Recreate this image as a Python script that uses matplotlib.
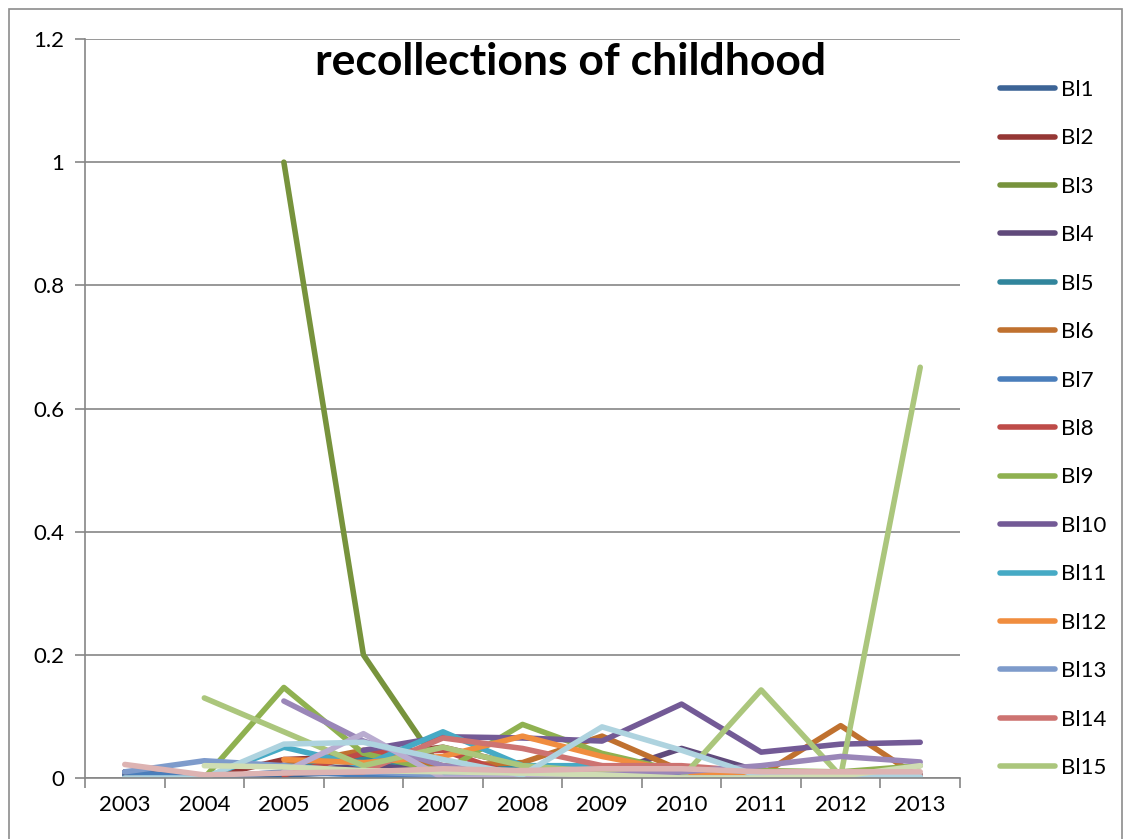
import numpy as np
import matplotlib

matplotlib.use("Agg")
import matplotlib.pyplot as plt
from matplotlib.patches import Rectangle

nan = np.nan

years = ["2003", "2004", "2005", "2006", "2007", "2008",
         "2009", "2010", "2011", "2012", "2013"]

bl1 = [0.005, 0.0, 0.005, 0.01, 0.005, 0.003, 0.0, 0.0, 0.0, 0.0, 0.0]
bl2 = [0.01, 0.0, 0.03, 0.035, 0.05, 0.02, 0.01, 0.0, 0.0, 0.0, 0.0]
bl3 = [nan, nan, 1.0, 0.2, 0.01, 0.005, 0.0, 0.0, 0.0, 0.0, 0.0]
bl4 = [nan, nan, 0.01, 0.02, 0.015, 0.02, 0.005, 0.048, 0.01, 0.005, 0.0]
bl5 = [nan, nan, 0.02, 0.03, 0.02, 0.015, 0.01, 0.005, 0.005, 0.005, 0.005]
bl6 = [nan, nan, 0.02, 0.045, 0.02, 0.025, 0.068, 0.012, 0.005, 0.085, 0.0]
bl7 = [0.01, 0.0, 0.01, 0.005, 0.003, 0.0, 0.0, 0.0, 0.0, 0.0, 0.0]
bl8 = [nan, nan, 0.005, 0.04, 0.045, 0.0, 0.0, 0.0, 0.0, 0.0, 0.0]
bl9 = [nan, 0.0, 0.147, 0.04, 0.01, 0.087, 0.04, 0.01, 0.012, 0.01, 0.02]
bl10 = [nan, nan, nan, 0.045, 0.067, 0.065, 0.06, 0.12, 0.042, 0.055, 0.058]
bl11 = [nan, 0.0, 0.05, 0.02, 0.075, 0.02, 0.02, 0.01, 0.01, 0.005, 0.005]
bl12 = [nan, nan, 0.03, 0.025, 0.035, 0.068, 0.035, 0.01, 0.0, 0.0, 0.0]
bl13 = [0.01, 0.028, 0.02, 0.01, 0.005, 0.0, 0.0, 0.0, 0.0, 0.0, 0.0]
bl14 = [nan, nan, 0.01, 0.01, 0.065, 0.048, 0.02, 0.02, 0.01, 0.01, 0.005]
bl15 = [nan, 0.13, 0.075, 0.02, 0.05, 0.02, 0.01, 0.0, 0.143, 0.003, 0.667]
bl16 = [nan, nan, 0.125, 0.06, 0.02, 0.01, 0.005, 0.01, 0.02, 0.035, 0.026]
bl17 = [nan, nan, 0.01, 0.072, 0.0, 0.0, 0.0, 0.0, 0.0, 0.0, nan]
bl18 = [0.0, 0.0, 0.055, 0.058, 0.03, 0.005, 0.083, 0.045, 0.002, 0.002, 0.002]
bl19 = [nan, 0.02, 0.018, 0.012, 0.01, 0.008, 0.005, 0.0, 0.0, 0.003, 0.02]
bl20 = [0.022, 0.005, 0.008, 0.01, 0.015, 0.012, 0.015, 0.015, 0.01, 0.01, 0.01]

series = [
    ("Bl1", bl1, "#3C6496"), ("Bl2", bl2, "#953735"), ("Bl3", bl3, "#77933C"),
    ("Bl4", bl4, "#604A7B"), ("Bl5", bl5, "#31859C"), ("Bl6", bl6, "#C0712F"),
    ("Bl7", bl7, "#4A7EBB"), ("Bl8", bl8, "#BE4B48"), ("Bl9", bl9, "#8FB150"),
    ("Bl10", bl10, "#735A96"), ("Bl11", bl11, "#46AAC5"), ("Bl12", bl12, "#F08D3F"),
    ("Bl13", bl13, "#7E9BCB"), ("Bl14", bl14, "#CD7371"), ("Bl15", bl15, "#ABC67C"),
    ("Bl16", bl16, "#9A86B8"), ("Bl17", bl17, "#B9ACD0"), ("Bl18", bl18, "#AED3DF"),
    ("Bl19", bl19, "#CFDDB3"), ("Bl20", bl20, "#DDB3B2"),
]
legend_count = 15

plt.rcParams["font.family"] = ["Lato", "DejaVu Sans"]

fig = plt.figure(figsize=(11.31, 8.39), dpi=100)
fig.patches.append(Rectangle((9 / 1131, -0.05), 1113 / 1131, 1 - 9 / 839 + 0.05,
                             transform=fig.transFigure, fill=False,
                             edgecolor="#8C8C8C", linewidth=1.2))

ax = fig.add_axes([85 / 1131, 61 / 839, 875 / 1131, 739 / 839])
x = np.arange(len(years))
handles = []
for name, values, color in series:
    line, = ax.plot(x, values, color=color, linewidth=4.0, label=name,
                    solid_capstyle="round", solid_joinstyle="round")
    handles.append(line)

ax.set_xlim(-0.5, len(years) - 0.5)
ax.set_ylim(0, 1.2)
ax.set_yticks([0, 0.2, 0.4, 0.6, 0.8, 1.0, 1.2])
ax.set_yticklabels(["0", "0.2", "0.4", "0.6", "0.8", "1", "1.2"])
ax.set_xticks(x)
ax.set_xticklabels(years)
ax.set_xticks(np.arange(len(years) + 1) - 0.5, minor=True)
ax.tick_params(axis="x", which="major", length=0, pad=12, labelsize=16)
ax.tick_params(axis="x", which="minor", length=7, color="#868686", width=1.2)
ax.tick_params(axis="y", length=7, color="#868686", width=1.2, pad=8, labelsize=16)
ax.grid(axis="y", color="#868686", linewidth=1.2)
ax.set_axisbelow(True)
for side in ("top", "right"):
    ax.spines[side].set_visible(False)
for side in ("left", "bottom"):
    ax.spines[side].set_color("#868686")
    ax.spines[side].set_linewidth(1.2)

fig.text(571 / 1131, 1 - 62 / 839, "recollections of childhood",
         ha="center", va="center", fontsize=32, fontweight="bold")

leg = fig.legend(handles[:legend_count], [s[0] for s in series[:legend_count]],
                 loc="upper left", bbox_to_anchor=(991 / 1131, 1 - 71 / 839),
                 frameon=False, fontsize=16, handlelength=2.5,
                 handletextpad=0.25, labelspacing=1.28, borderaxespad=0)
for h in leg.get_lines():
    h.set_linewidth(4.0)
    h.set_solid_capstyle("round")

fig.savefig("out.png", dpi=100)
